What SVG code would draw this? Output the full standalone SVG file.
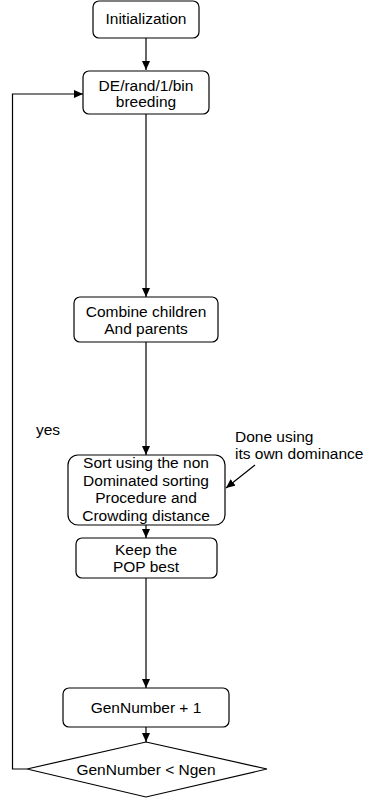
<svg xmlns="http://www.w3.org/2000/svg" width="386" height="801" viewBox="0 0 386 801">
<style>
.box{fill:#fff;stroke:#000;stroke-width:1.2}
.t{font-family:"Liberation Sans",Arial,sans-serif;font-size:15.5px;fill:#000;text-anchor:middle}
.l{font-family:"Liberation Sans",Arial,sans-serif;font-size:15.5px;fill:#000}
.c{fill:none;stroke:#000;stroke-width:1.2}
</style>
<defs>
<marker id="ah" markerWidth="10" markerHeight="10" refX="9" refY="4" orient="auto" markerUnits="userSpaceOnUse">
<path d="M0,0 L9,4 L0,8 Z" fill="#000"/>
</marker>
</defs>
<g id="connectors">
<line class="c" x1="146" y1="38" x2="146" y2="70" marker-end="url(#ah)"/>
<line class="c" x1="146" y1="114" x2="146" y2="297" marker-end="url(#ah)"/>
<line class="c" x1="146" y1="342" x2="146" y2="455" marker-end="url(#ah)"/>
<line class="c" x1="146" y1="525" x2="146" y2="538" marker-end="url(#ah)"/>
<line class="c" x1="146" y1="578" x2="146" y2="688" marker-end="url(#ah)"/>
<line class="c" x1="146" y1="727" x2="146" y2="742" marker-end="url(#ah)"/>
<polyline class="c" points="27,769 12.5,769 12.5,94 83,94" marker-end="url(#ah)"/>
<line class="c" x1="255" y1="465" x2="226" y2="488" marker-end="url(#ah)"/>
</g>
<g id="init">
<rect class="box" x="93" y="1" width="106" height="37" rx="6"/>
<text class="t" x="146" y="24">Initialization</text>
</g>
<g id="breeding">
<rect class="box" x="83" y="71" width="126" height="43" rx="6"/>
<text class="t" x="146" y="91">DE/rand/1/bin</text>
<text class="t" x="146" y="107">breeding</text>
</g>
<g id="combine">
<rect class="box" x="74" y="297" width="144" height="45" rx="6"/>
<text class="t" x="146" y="317">Combine children</text>
<text class="t" x="146" y="334">And parents</text>
</g>
<g id="sort">
<rect class="box" x="68" y="455" width="157" height="70" rx="10"/>
<text class="t" x="146" y="468">Sort using the non</text>
<text class="t" x="146" y="486">Dominated sorting</text>
<text class="t" x="146" y="503">Procedure and</text>
<text class="t" x="146" y="521">Crowding distance</text>
</g>
<g id="keep">
<rect class="box" x="76" y="538" width="141" height="40" rx="6"/>
<text class="t" x="146" y="555">Keep the</text>
<text class="t" x="146" y="572">POP best</text>
</g>
<g id="gen">
<rect class="box" x="63" y="688" width="166" height="39" rx="6"/>
<text class="t" x="146" y="713">GenNumber + 1</text>
</g>
<g id="decision">
<polygon class="box" points="146,742 267,769 146,797 27,769"/>
<text class="t" x="146" y="775">GenNumber &lt; Ngen</text>
</g>
<g id="labels">
<text class="l" x="36" y="435">yes</text>
<text class="l" x="235" y="442">Done using</text>
<text class="l" x="235" y="459">its own dominance</text>
</g>
</svg>
